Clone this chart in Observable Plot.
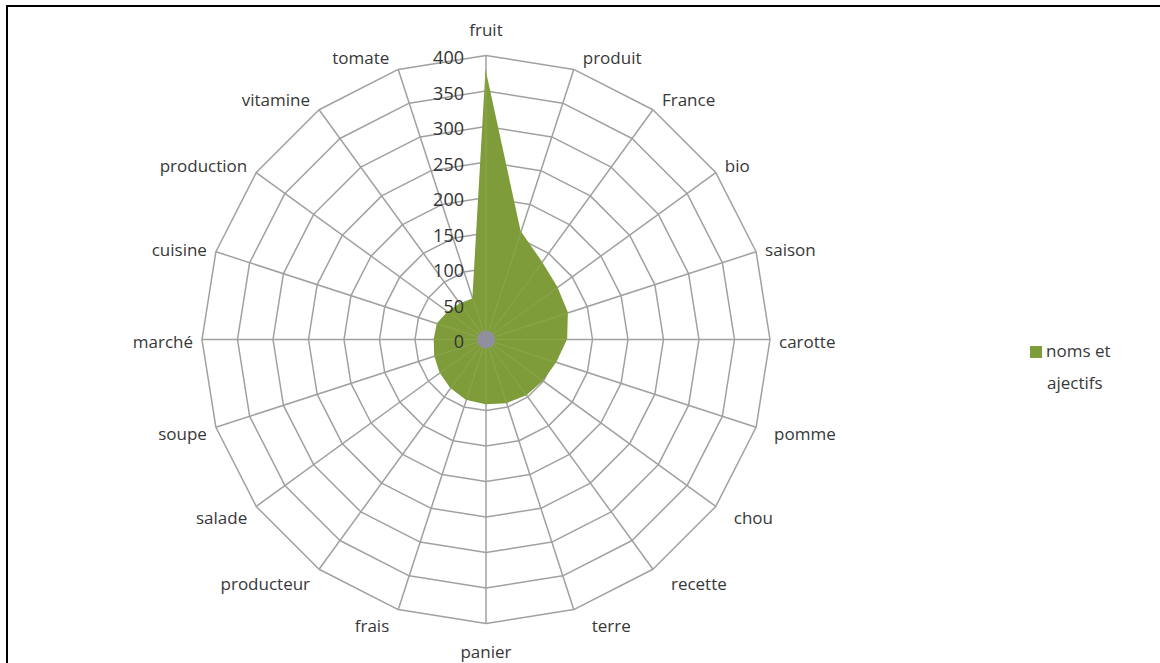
<!DOCTYPE html>
<html>
<head>
<meta charset="utf-8">
<script src="https://cdn.jsdelivr.net/npm/d3@7"></script>
<script src="https://cdn.jsdelivr.net/npm/@observablehq/plot@0.6"></script>
<style>
  html, body { margin: 0; padding: 0; background: #fff; }
  body { width: 1160px; height: 663px; overflow: hidden; position: relative; font-family: "Open Sans", sans-serif; }
  #frame { position: absolute; left: 6px; top: 5px; width: 1300px; height: 800px; border: 2px solid #000; box-sizing: border-box; }
  #chart { position: absolute; left: 0; top: 0; }
  #legend { position: absolute; left: 1030px; top: 335px; font-size: 17px; color: #383838; line-height: 32px; }
  #legend .sw { display: inline-block; width: 12px; height: 12px; background: #7f9c3a; margin-right: 4px; vertical-align: -1px; }
  #legend .l2 { padding-left: 17px; }
</style>
</head>
<body>
<div id="frame"></div>
<div id="chart"></div>
<div id="legend"><div><span class="sw"></span>noms et</div><div class="l2">ajectifs</div></div>
<script>
const categories = ["fruit","produit","France","bio","saison","carotte","pomme","chou","recette","terre","panier","frais","producteur","salade","soupe","marché","cuisine","production","vitamine","tomate"];
const values = [380,160,135,125,122,115,105,100,98,95,92,90,85,80,76,73,72,66,62,60];
const ticks = [0,50,100,150,200,250,300,350,400];
const seriesName = "noms et ajectifs";

const W = 1160, H = 663;
const cx = 485.5, cy = 339, Rpx = 284, vmax = 400;
const k = vmax / Rpx; // data units per pixel
const n = categories.length;
const ang = i => i * 2 * Math.PI / n;

const pts = categories.map((c, i) => ({c, v: values[i], x: values[i] * Math.sin(ang(i)), y: values[i] * Math.cos(ang(i))}));
const poly = [...pts, pts[0]];

const rings = [];
ticks.filter(t => t > 0).forEach(t => {
  for (let i = 0; i <= n; i++) rings.push({t, x: t * Math.sin(ang(i % n)), y: t * Math.cos(ang(i % n))});
});
const spokes = categories.map((c, i) => ({c, x: vmax * Math.sin(ang(i)), y: vmax * Math.cos(ang(i))}));

const labels = categories.map((c, i) => {
  const s = Math.sin(ang(i)), co = Math.cos(ang(i));
  const anchor = s > 0.2 ? "start" : s < -0.2 ? "end" : "middle";
  let ox, oy;
  if (anchor === "middle") { ox = 0; oy = 2 - 27 * co; }
  else {
    const gap = (anchor === "start" && co < -0.1) ? 18 : 9;
    ox = anchor === "start" ? gap : -gap; oy = 3 - 15 * co;
  }
  return {c, anchor, x: vmax * s + ox * k, y: vmax * co - oy * k};
});

const tickLabels = ticks.map(t => ({t, x: -22 * k, y: t - 3 * k}));

const chart = Plot.plot({
  width: W, height: H,
  marginLeft: 0, marginRight: 0, marginTop: 0, marginBottom: 0,
  x: {domain: [-cx * k, (W - cx) * k], axis: null},
  y: {domain: [-(H - cy) * k, cy * k], axis: null},
  style: {fontFamily: "Open Sans, sans-serif", fontSize: "17px", color: "#383838", background: "transparent", overflow: "visible"},
  marks: [
    Plot.line(rings, {x: "x", y: "y", z: "t", stroke: "#a0a0a0", strokeWidth: 1.5}),
    Plot.link(spokes, {x1: 0, y1: 0, x2: "x", y2: "y", stroke: "#a0a0a0", strokeWidth: 1.5}),
    Plot.area(poly, {x1: "x", y1: "y", x2: 0, y2: 0, fill: "#7f9c3a", fillOpacity: 1, title: () => seriesName}),
    Plot.link(spokes.map((d, i) => ({x: values[i] * Math.sin(ang(i)), y: values[i] * Math.cos(ang(i))})), {x1: 0, y1: 0, x2: "x", y2: "y", stroke: "#9cb565", strokeOpacity: 0.45, strokeWidth: 1}),
    Plot.dot([{x: 0, y: 0}], {x: "x", y: "y", r: 9, fill: "#8f8fa0"}),
    Plot.text(tickLabels, {x: "x", y: "y", text: d => String(d.t), textAnchor: "end", fontSize: 18, fill: "#333"}),
    Plot.text(labels.filter(d => d.anchor === "start"), {x: "x", y: "y", text: "c", textAnchor: "start", fontSize: 17, fill: "#383838"}),
    Plot.text(labels.filter(d => d.anchor === "end"), {x: "x", y: "y", text: "c", textAnchor: "end", fontSize: 17, fill: "#383838"}),
    Plot.text(labels.filter(d => d.anchor === "middle"), {x: "x", y: "y", text: "c", textAnchor: "middle", fontSize: 17, fill: "#383838"})
  ]
});
document.getElementById("chart").appendChild(chart);
</script>
</body>
</html>
